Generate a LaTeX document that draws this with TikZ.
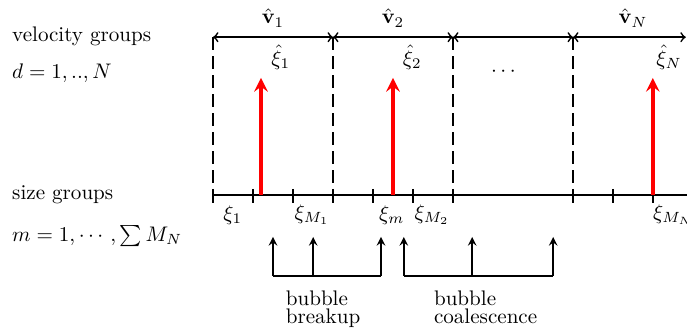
\documentclass[tikz,border=0pt]{standalone}
\usepackage{amsmath}
\begin{document}
\begin{tikzpicture}[
        axis/.style={thick},
        bound/.style={thick, dash pattern=on 6pt off 3pt},
        pdf/.style={red, line width=1.8pt, -stealth},
        event/.style={thick, -stealth},
        side/.style={anchor=west}
    ]
    \useasboundingbox (-3.55,-2.27) rectangle (7.9,3.25);
    % Texte links
    \node[side] (vg) at (-3.47,2.65) {velocity groups};
    \node[side] (vd) at (-3.47,2.03) {$d=1,..,N$};
    \node[side] (sg) at (-3.47,0) {size groups};
    \node[side] (sm) at (-3.47,-0.68) {$m=1,\cdots,\sum M_N$};
    % Geschwindigkeitsgruppen
    \foreach \x in {0,2,4,6}
        \draw[bound] (\x,2.63) -- (\x,0);
    \draw[axis,<->] (0,2.63) -- (2,2.63);
    \draw[axis,<->] (2,2.63) -- (4,2.63);
    \draw[axis,<->] (4,2.63) -- (6,2.63);
    \draw[axis,<->] (6,2.63) -- (7.88,2.63);
    \node (v1) at (1,2.95) {$\hat{\mathbf{v}}_1$};
    \node (v2) at (3,2.95) {$\hat{\mathbf{v}}_2$};
    \node (vN) at (7,2.95) {$\hat{\mathbf{v}}_N$};
    % Groessenachse
    \draw[axis] (0,0) -- (8,0);
    \foreach \x in {0,0.667,1.333,2,2.667,3.333,4,6,6.667,7.333}
        \draw[axis] (\x,0.1) -- (\x,-0.13);
    \node (x1) at (0.33,-0.33) {$\xi_1$};
    \node (xM1) at (1.65,-0.33) {$\xi_{M_1}$};
    \node (xm) at (2.98,-0.33) {$\xi_m$};
    \node (xM2) at (3.65,-0.33) {$\xi_{M_2}$};
    \node (xMN) at (7.67,-0.33) {$\xi_{M_N}$};
    % Repraesentative Groessen
    \coordinate (p1) at (0.8,0);
    \coordinate (p2) at (3,0);
    \coordinate (pN) at (7.33,0);
    \node (t1) at (1.13,2.3) {$\hat{\xi}_1$};
    \node (t2) at (3.32,2.3) {$\hat{\xi}_2$};
    \node (tN) at (7.6,2.3) {$\hat{\xi}_N$};
    \node (dots) at (4.87,2.05) {$\cdots$};
    \draw[pdf] (p1) -- ++(0,1.95);
    \draw[pdf] (p2) -- ++(0,1.95);
    \draw[pdf] (pN) -- ++(0,1.95);
    % Zerfall
    \coordinate (b1) at (1,-1.35);
    \coordinate (b2) at (1.67,-1.35);
    \coordinate (b3) at (2.8,-1.35);
    \draw[thick] (b1) -- (b3);
    \foreach \c in {b1,b2,b3}
        \draw[event] (\c) -- ++(0,0.65);
    \node[anchor=north west, align=left] (bu) at (1.09,-1.47) {bubble\\[-3.5pt]breakup};
    % Koaleszenz
    \coordinate (c1) at (3.18,-1.35);
    \coordinate (c2) at (4.32,-1.35);
    \coordinate (c3) at (5.67,-1.35);
    \draw[thick] (c1) -- (c3);
    \foreach \c in {c1,c2,c3}
        \draw[event] (\c) -- ++(0,0.65);
    \node[anchor=north west, align=left] (co) at (3.56,-1.47) {bubble\\[-3.5pt]coalescence};
\end{tikzpicture}
\end{document}
